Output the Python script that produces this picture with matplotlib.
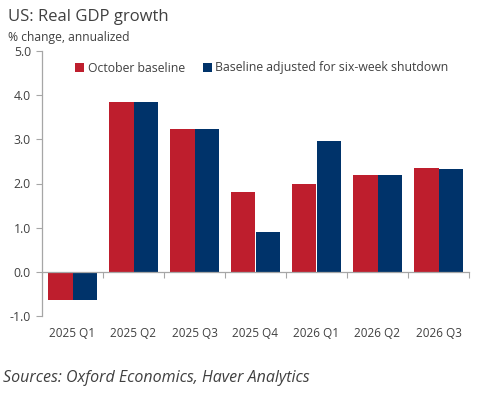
import matplotlib
matplotlib.use("Agg")
import matplotlib.pyplot as plt
import numpy as np

categories = ["2025 Q1", "2025 Q2", "2025 Q3", "2025 Q4", "2026 Q1", "2026 Q2", "2026 Q3"]
october = [-0.64, 3.84, 3.24, 1.80, 1.98, 2.19, 2.36]
adjusted = [-0.64, 3.84, 3.24, 0.91, 2.96, 2.19, 2.33]
series_names = ["October baseline", "Baseline adjusted for six-week shutdown"]
yticks = [-1.0, 0.0, 1.0, 2.0, 3.0, 4.0, 5.0]

RED = "#BE1E2D"
NAVY = "#00336A"
TXT = "#404040"
GRID = "#A6A6A6"

plt.rcParams["font.family"] = ["Open Sans", "DejaVu Sans"]

fig = plt.figure(figsize=(4.8, 3.96), dpi=100)
ax = fig.add_axes([42/480, 1-316/396, (469-42)/480, (316-51)/396])

x = np.arange(len(categories))
w = 0.4
ax.bar(x - w/2, october, width=w, color=RED, label=series_names[0], linewidth=0)
ax.bar(x + w/2, adjusted, width=w, color=NAVY, label=series_names[1], linewidth=0)

ax.set_xlim(-0.5, len(categories) - 0.5)
ax.set_ylim(-1, 5)
ax.set_yticks(yticks)
ax.set_yticklabels([f"{v:.1f}" for v in yticks], color=TXT, fontsize=8.8)
ax.tick_params(axis="y", direction="out", length=4, width=0.8, color=GRID, pad=4)

for s in ["top", "right"]:
    ax.spines[s].set_visible(False)
ax.spines["left"].set_color(GRID)
ax.spines["left"].set_linewidth(0.9)
ax.spines["bottom"].set_position(("data", 0))
ax.spines["bottom"].set_color(GRID)
ax.spines["bottom"].set_linewidth(0.9)

ax.set_xticks(np.arange(len(categories) + 1) - 0.5)
ax.set_xticklabels([])
ax.tick_params(axis="x", which="major", direction="out", length=4, width=0.8, color=GRID)
ax.set_xticks(x, minor=True)
ax.set_xticklabels(categories, minor=True, color=TXT, fontsize=8.5)
ax.tick_params(axis="x", which="minor", length=0, pad=40)

fig.text(8/480, 1-17/396, "US: Real GDP growth", fontsize=12, color=TXT, va="center", ha="left")
fig.text(8/480, 1-37/396, "% change, annualized", fontsize=8.7, color=TXT, va="center", ha="left")
fig.text(3/480, 1-378/396, "Sources: Oxford Economics, Haver Analytics", fontsize=11.5, color=TXT,
         style="italic", va="center", ha="left")

leg = ax.legend(loc="center", bbox_to_anchor=(262/480, 1-68/396), bbox_transform=fig.transFigure,
                ncol=2, frameon=False, handlelength=0.7, handleheight=0.7, handletextpad=0.3,
                columnspacing=1.5, fontsize=8.8)
for t in leg.get_texts():
    t.set_color(TXT)

fig.savefig("out.png", dpi=100)
